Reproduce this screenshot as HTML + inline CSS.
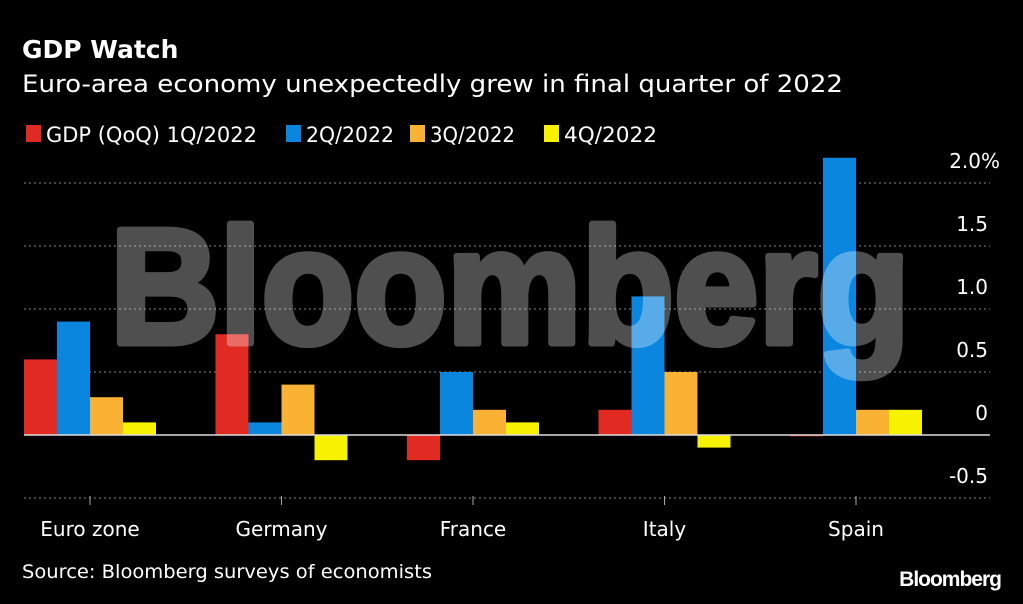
<!DOCTYPE html>
<html><head><meta charset="utf-8"><style>
body{margin:0;background:#000;width:1023px;height:600px;overflow:hidden;font-family:"DejaVu Sans",sans-serif;color:#fff}
</style></head><body>
<svg width="1023" height="600" xmlns="http://www.w3.org/2000/svg">
<rect width="1023" height="600" fill="#000"/>
<text x="22" y="58" font-size="25" font-weight="bold" fill="#fff" font-family="DejaVu Sans">GDP Watch</text>
<text x="22" y="92" font-size="24" fill="#fff" font-family="DejaVu Sans" textLength="821" lengthAdjust="spacingAndGlyphs">Euro-area economy unexpectedly grew in final quarter of 2022</text>
<g id="legend"></g>
<g id="grid"></g>
<g id="bars"></g>
<g opacity="0.31">
<text x="110" y="343" font-size="164" font-weight="bold" fill="#fff" stroke="#fff" stroke-width="7" stroke-linejoin="round" font-family="Liberation Sans" textLength="800" lengthAdjust="spacingAndGlyphs">Bloomberg</text>
</g>
<g id="xaxis"></g>
<text x="22" y="578" font-size="19" fill="#fff" font-family="DejaVu Sans" textLength="410" lengthAdjust="spacingAndGlyphs">Source: Bloomberg surveys of economists</text>
<text x="1001" y="586" font-size="21" font-weight="bold" fill="#fff" text-anchor="end" font-family="Liberation Sans" letter-spacing="-1">Bloomberg</text>
</svg>
<script>
const categories=["Euro zone","Germany","France","Italy","Spain"];
const seriesNames=["GDP (QoQ) 1Q/2022","2Q/2022","3Q/2022","4Q/2022"];
const q1=[0.6,0.8,-0.2,0.2,-0.01];
const q2=[0.9,0.1,0.5,1.1,2.2];
const q3=[0.3,0.4,0.2,0.5,0.2];
const q4=[0.1,-0.2,0.1,-0.1,0.2];
const tickValues=[-0.5,0,0.5,1.0,1.5,2.0];
const tickLabels=["-0.5","0","0.5","1.0","1.5","2.0%"];
const colors=["#e02a22","#0a86de","#f9b233","#f7f200"];
const NS="http://www.w3.org/2000/svg";
const y=v=>435-v*126;
const cx=i=>90+i*191.5;
const bw=33;
function mk(tag,attrs,parent){const e=document.createElementNS(NS,tag);for(const k in attrs)e.setAttribute(k,attrs[k]);parent.appendChild(e);return e;}
const leg=document.getElementById('legend');
const legX=[26,286,410,544];
const legW=[211,88,85,93];
seriesNames.forEach((n,i)=>{
 const r=mk('rect',{x:legX[i],y:125,width:15,height:17,fill:colors[i]},leg);
 
 
 const t=mk('text',{x:legX[i]+20,y:142,'font-size':21,fill:'#fff','font-family':'DejaVu Sans',textLength:legW[i],lengthAdjust:'spacingAndGlyphs'},leg);
 t.textContent=n;
 
 
});
const grid=document.getElementById('grid');
tickValues.forEach((v,i)=>{
 if(v!==0){const l=mk('line',{x1:24,x2:990,y1:y(v),y2:y(v),stroke:'#888','stroke-dasharray':'2,3','stroke-width':1},grid);
 
 }
 const t=mk('text',{x:v===2?1000:988,y:y(v)-15,'font-size':20,fill:'#fff','text-anchor':'end','font-family':'DejaVu Sans'},grid);
 t.textContent=tickLabels[i];
 
 
});
const bars=document.getElementById('bars');
[q1,q2,q3,q4].forEach((s,si)=>{
 s.forEach((v,ci)=>{
  const x0=cx(ci)-2*bw+si*bw;
  const top=Math.min(y(v),y(0)),h=Math.max(Math.abs(y(v)-y(0)),1);
  const r=mk('rect',{x:x0,y:top,width:bw,height:h,fill:colors[si]},bars);
  
  
 });
});
const z=mk('line',{x1:24,x2:990,y1:y(0),y2:y(0),stroke:'#ddd','stroke-width':1.5},bars);


const xa=document.getElementById('xaxis');
categories.forEach((c,i)=>{
 const tk=mk('line',{x1:cx(i),x2:cx(i),y1:496,y2:505,stroke:'#aaa','stroke-width':1},xa);
 
 
 const t=mk('text',{x:cx(i),y:536,'font-size':20,fill:'#fff','text-anchor':'middle','font-family':'DejaVu Sans'},xa);
 t.textContent=c;
 
 
});
</script>
</body></html>
